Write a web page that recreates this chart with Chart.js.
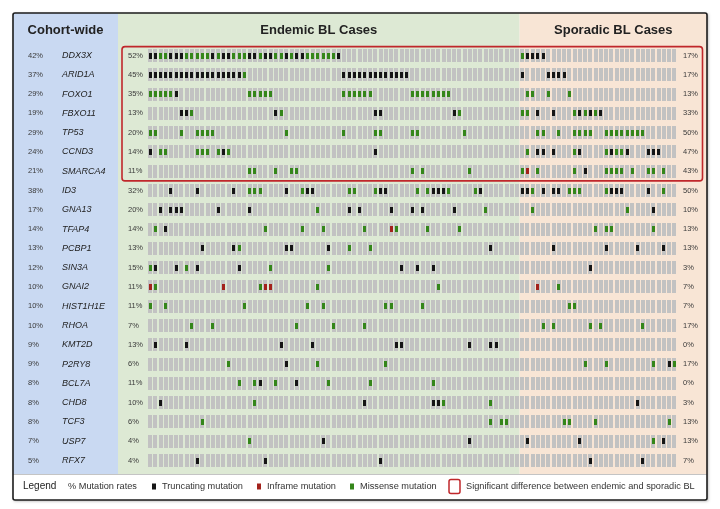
<!DOCTYPE html>
<html>
<head>
<meta charset="utf-8">
<script src="https://cdn.jsdelivr.net/npm/chart.js@4.4.1/dist/chart.umd.min.js"></script>
<style>
  html, body { margin: 0; padding: 0; background: #fff; }
  #wrap { width: 720px; height: 509px; }
</style>
</head>
<body>
<div id="wrap"><canvas id="oncoprint" width="720" height="509"></canvas></div>
<script>
const genes = ['DDX3X', 'ARID1A', 'FOXO1', 'FBXO11', 'TP53', 'CCND3', 'SMARCA4', 'ID3', 'GNA13', 'TFAP4', 'PCBP1',
  'SIN3A', 'GNAI2', 'HIST1H1E', 'RHOA', 'KMT2D', 'P2RY8', 'BCL7A', 'CHD8', 'TCF3', 'USP7', 'RFX7'];
const endemicCases = 71;   // columns 0-70
const sporadicCases = 30;  // columns 71-100
const significantGenes = 7; // first 7 rows boxed

// mutated columns, one list per gene
const truncating = [
  [0, 1, 4, 5, 6, 12, 14, 15, 19, 20, 22, 23, 26, 28, 29, 36, 72, 73, 74, 75],
  [0, 1, 2, 3, 4, 5, 6, 7, 8, 9, 10, 11, 12, 13, 14, 15, 16, 17, 37, 38, 39, 40, 41, 42, 43, 44, 45, 46, 47, 48, 49, 71, 76, 77, 78, 79],
  [5],
  [6, 7, 24, 43, 44, 58, 74, 77, 82, 84, 86],
  [],
  [0, 14, 43, 74, 75, 77, 82, 88, 91, 95, 96, 97],
  [83],
  [4, 9, 16, 26, 30, 31, 44, 45, 54, 55, 56, 63, 71, 72, 75, 77, 78, 88, 89, 90, 95],
  [2, 4, 5, 6, 13, 19, 38, 40, 46, 50, 52, 58, 96],
  [3],
  [10, 16, 26, 27, 34, 65, 77, 87, 93, 98],
  [1, 5, 9, 17, 48, 51, 54, 84],
  [],
  [],
  [],
  [1, 7, 25, 31, 47, 48, 61, 65, 66],
  [26, 99],
  [21, 28],
  [2, 41, 54, 55, 93],
  [],
  [33, 61, 72, 82, 98],
  [9, 22, 44, 84, 94]
];
const inframe = [
  [], [], [], [], [], [], [72], [], [], [46], [],
  [], [0, 14, 22, 23, 74], [], [], [], [], [], [], [], [], []
];
const missense = [
  [2, 3, 7, 8, 9, 10, 11, 13, 16, 17, 18, 21, 24, 25, 27, 30, 31, 32, 33, 34, 35, 71],
  [18],
  [0, 1, 2, 3, 4, 19, 20, 21, 22, 23, 37, 38, 39, 40, 41, 42, 50, 51, 52, 53, 54, 55, 56, 57, 72, 73, 76, 80],
  [8, 25, 59, 71, 72, 81, 83, 85],
  [0, 1, 6, 9, 10, 11, 12, 26, 37, 43, 44, 50, 51, 60, 74, 75, 78, 81, 82, 83, 84, 87, 88, 89, 90, 91, 92, 93, 94],
  [2, 3, 9, 10, 11, 13, 15, 72, 81, 87, 89, 90],
  [19, 20, 24, 27, 28, 50, 52, 61, 71, 74, 81, 87, 88, 89, 90, 92, 95, 96, 98],
  [19, 20, 21, 29, 38, 39, 43, 51, 53, 57, 62, 73, 80, 81, 82, 87, 98],
  [32, 64, 73, 91],
  [1, 22, 29, 33, 41, 47, 53, 59, 85, 87, 88, 96],
  [17, 38, 42],
  [0, 7, 23, 34],
  [1, 21, 32, 55, 78],
  [0, 3, 18, 30, 33, 45, 46, 52, 80, 81],
  [8, 12, 28, 35, 41, 75, 77, 84, 86, 94],
  [],
  [15, 32, 45, 83, 87, 96, 100],
  [17, 20, 24, 34, 42, 54],
  [20, 56, 65],
  [10, 65, 67, 68, 79, 80, 85, 99],
  [19, 96],
  []
];

const totalCases = endemicCases + sporadicCases;

// mutation rates per gene
function rate(g, from, to) {
  const cols = truncating[g].concat(inframe[g], missense[g]);
  const n = cols.filter(c => c >= from && c < to).length;
  return Math.round(n / (to - from) * 100) + '%';
}

function toPoints(lists) {
  const pts = [];
  lists.forEach((cols, g) => cols.forEach(c => pts.push({ x: c, y: g })));
  return pts;
}

const cells = [];
genes.forEach((name, g) => {
  for (let c = 0; c < totalCases; c++) cells.push({ x: c, y: g });
});

function rectImg(w, h, color) {
  const cv = document.createElement('canvas');
  cv.width = w; cv.height = h;
  const c = cv.getContext('2d');
  c.fillStyle = color;
  c.fillRect(0, 0, w, h);
  return cv;
}

const colors = {
  truncating: '#151515',
  inframe: '#a3221c',
  missense: '#34861a',
  cell: '#c2c2c2',
  cohort: '#c9d9f2',
  endemic: '#dde9d4',
  sporadic: '#f8e5d5',
  box: '#c0272b'
};

const FONT = "'Liberation Sans', Arial, sans-serif";

const decorPlugin = {
  id: 'decor',
  beforeDraw(chart) {
    const ctx = chart.ctx;
    const x = chart.scales.x;
    const left = 13, right = 707, top = 13, bottom = 500, legendTop = 474;
    const split1 = 118;
    const split2 = x.getPixelForValue(endemicCases - 0.5);

    ctx.save();
    ctx.fillStyle = '#fff';
    ctx.fillRect(0, 0, chart.width, chart.height);

    ctx.shadowColor = 'rgba(0,0,0,0.35)';
    ctx.shadowBlur = 3;
    ctx.shadowOffsetX = 1;
    ctx.shadowOffsetY = 1;
    ctx.fillStyle = '#fff';
    ctx.fillRect(left, top, right - left, bottom - top);
    ctx.shadowColor = 'transparent';

    ctx.fillStyle = colors.cohort;
    ctx.fillRect(left, top, split1 - left, legendTop - top);
    ctx.fillStyle = colors.endemic;
    ctx.fillRect(split1, top, split2 - split1, legendTop - top);
    ctx.fillStyle = colors.sporadic;
    ctx.fillRect(split2, top, right - split2, legendTop - top);

    ctx.strokeStyle = '#b5b5b5';
    ctx.lineWidth = 0.8;
    ctx.beginPath();
    ctx.moveTo(left, legendTop + 0.5);
    ctx.lineTo(right, legendTop + 0.5);
    ctx.stroke();

    ctx.strokeStyle = '#1d1d1d';
    ctx.lineWidth = 1.6;
    ctx.beginPath();
    ctx.roundRect(left, top, right - left, bottom - top, 2);
    ctx.stroke();

    // headers
    ctx.fillStyle = '#222';
    ctx.font = 'bold 13px ' + FONT;
    ctx.textAlign = 'center';
    ctx.textBaseline = 'middle';
    ctx.fillText('Cohort-wide', (left + split1) / 2, 30);
    ctx.fillText('Endemic BL Cases', (split1 + split2) / 2, 30);
    ctx.fillText('Sporadic BL Cases', (split2 + right) / 2, 30);
    ctx.restore();
  },
  afterDatasetsDraw(chart) {
    const ctx = chart.ctx;
    const y = chart.scales.y;
    ctx.save();

    // row labels
    ctx.textBaseline = 'middle';
    ctx.textAlign = 'left';
    genes.forEach((name, g) => {
      const py = y.getPixelForValue(g);
      ctx.fillStyle = '#3a3a3a';
      ctx.font = '7.5px ' + FONT;
      ctx.fillText(rate(g, 0, totalCases), 28, py);
      ctx.fillText(rate(g, 0, endemicCases), 128, py);
      ctx.fillText(rate(g, endemicCases, totalCases), 683, py);
      ctx.fillStyle = '#222';
      ctx.font = 'italic 9px ' + FONT;
      ctx.fillText(name, 62, py);
    });

    // significance box
    const bTop = y.getPixelForValue(-0.46);
    const bBot = y.getPixelForValue(significantGenes - 0.5);
    ctx.strokeStyle = colors.box;
    ctx.lineWidth = 1.6;
    ctx.beginPath();
    ctx.roundRect(122, bTop, 702.5 - 122, bBot - bTop, 3);
    ctx.stroke();

    // legend
    const ly = 486.5;
    ctx.fillStyle = '#222';
    ctx.font = '10px ' + FONT;
    ctx.fillText('Legend', 23, ly);
    ctx.font = '9.2px ' + FONT;
    ctx.fillStyle = '#333';
    ctx.fillText('% Mutation rates', 68, ly);
    const items = [
      [152, colors.truncating, 'Truncating mutation'],
      [257, colors.inframe, 'Inframe mutation'],
      [350, colors.missense, 'Missense mutation']
    ];
    items.forEach(([px, col, label]) => {
      ctx.fillStyle = col;
      ctx.fillRect(px, ly - 3, 4, 6);
      ctx.fillStyle = '#333';
      ctx.fillText(label, px + 10, ly);
    });
    ctx.strokeStyle = colors.box;
    ctx.lineWidth = 1.5;
    ctx.beginPath();
    ctx.roundRect(449, ly - 7, 11, 14, 2);
    ctx.stroke();
    ctx.fillStyle = '#333';
    ctx.fillText('Significant difference between endemic and sporadic BL', 466, ly);
    ctx.restore();
  }
};

const ctx = document.getElementById('oncoprint').getContext('2d');
const oncoprint = new Chart(ctx, {
  type: 'scatter',
  data: {
    datasets: [
      { label: 'Truncating mutation', data: toPoints(truncating), pointStyle: rectImg(3, 6, colors.truncating) },
      { label: 'Inframe mutation', data: toPoints(inframe), pointStyle: rectImg(3, 6, colors.inframe) },
      { label: 'Missense mutation', data: toPoints(missense), pointStyle: rectImg(3, 6, colors.missense) },
      { label: 'cases', data: cells, pointStyle: rectImg(4, 13, colors.cell) }
    ]
  },
  options: {
    responsive: false,
    animation: false,
    events: [],
    layout: { padding: { left: 147.4, right: 43.1, top: 45.9, bottom: 38.8 } },
    scales: {
      x: { type: 'linear', min: -0.5, max: totalCases - 0.5, display: false },
      y: { type: 'linear', min: -0.5, max: genes.length - 0.5, reverse: true, display: false }
    },
    plugins: {
      legend: { display: false },
      tooltip: { enabled: false }
    }
  },
  plugins: [decorPlugin]
});
</script>
</body>
</html>
